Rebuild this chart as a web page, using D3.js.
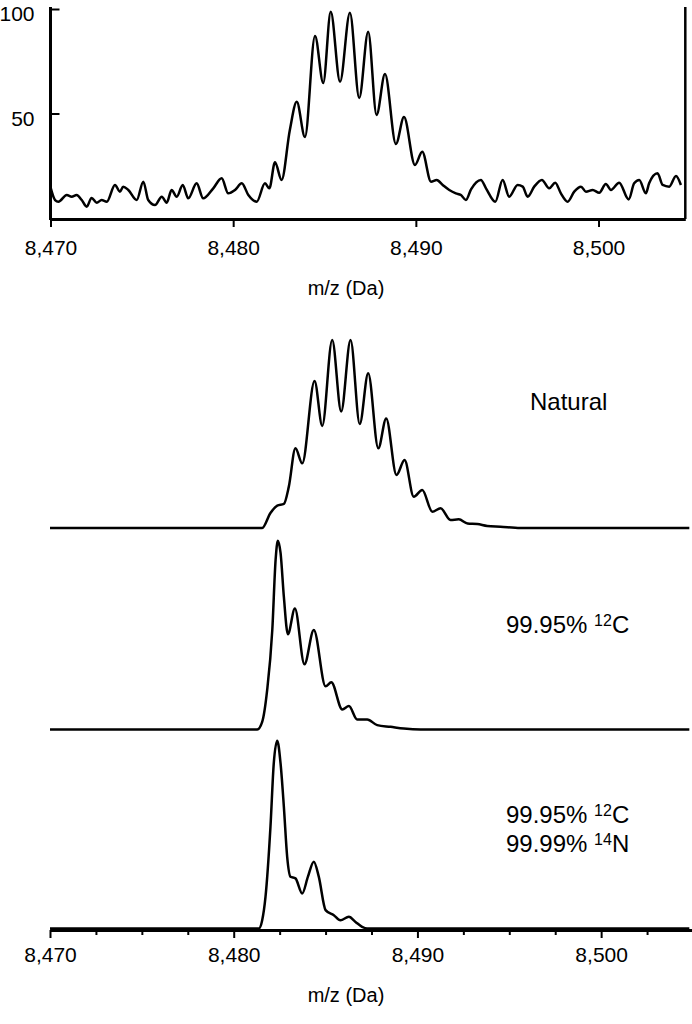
<!DOCTYPE html>
<html>
<head>
<meta charset="utf-8">
<script src="https://cdn.jsdelivr.net/npm/d3@7"></script>
<style>
body { margin: 0; background: #fff; }
text { font-family: "Liberation Sans", Arial, Helvetica, sans-serif; fill: #000; }
</style>
</head>
<body>
<svg id="chart"></svg>
<script>
const w = 692;
const h = 1024;

// measured spectrum (top panel), m/z and relative intensity
const measMz = [8470.01, 8470.25, 8470.43, 8470.89, 8471.16, 8471.43, 8471.71, 8471.98, 8472.25, 8472.53,
  8472.80, 8473.08, 8473.53, 8473.80, 8473.98, 8474.26, 8474.72, 8475.08, 8475.35, 8475.72,
  8476.09, 8476.36, 8476.63, 8476.91, 8477.24, 8477.54, 8478.00, 8478.36, 8478.91, 8479.37,
  8479.73, 8480.10, 8480.47, 8480.83, 8481.29, 8481.74, 8481.98, 8482.29, 8482.65, 8483.10,
  8483.48, 8483.93, 8484.48, 8484.93, 8485.34, 8485.85, 8486.39, 8486.90, 8487.39, 8487.85,
  8488.31, 8488.91, 8489.35, 8489.95, 8490.35, 8490.83, 8491.14, 8491.47, 8491.83, 8492.19,
  8492.47, 8492.74, 8493.02, 8493.56, 8493.84, 8494.35, 8494.75, 8495.11, 8495.57, 8495.85,
  8496.12, 8496.48, 8496.90, 8497.30, 8497.63, 8497.94, 8498.31, 8498.67, 8499.04, 8499.31,
  8499.68, 8500.04, 8500.40, 8500.68, 8501.13, 8501.65, 8501.95, 8502.23, 8502.59, 8502.77,
  8503.23, 8503.51, 8503.87, 8504.24, 8504.51];
const measInt = [14.4, 8.6, 7.8, 11.0, 10.2, 11.0, 8.6, 5.4, 9.6, 7.3,
  8.6, 7.8, 15.8, 12.6, 15.0, 13.4, 8.6, 17.4, 8.6, 6.2,
  10.2, 7.3, 13.4, 10.2, 15.8, 9.4, 16.6, 9.4, 14.2, 19.0,
  11.8, 13.4, 16.6, 11.0, 7.8, 16.6, 14.2, 26.7, 18.2, 42.0,
  55.6, 38.8, 87.1, 64.6, 98.7, 65.2, 98.2, 57.4, 89.1, 49.3,
  68.9, 35.4, 48.3, 25.4, 31.7, 17.4, 18.2, 15.8, 13.4, 11.8,
  11.0, 8.6, 13.7, 18.2, 14.2, 7.8, 18.2, 10.2, 15.8, 15.0,
  10.2, 15.0, 18.2, 14.2, 16.9, 11.8, 7.8, 12.6, 15.0, 12.6,
  13.4, 12.1, 16.3, 13.4, 16.9, 8.9, 16.6, 18.2, 11.8, 16.6,
  21.4, 15.8, 15.0, 20.1, 15.8];

// simulated distributions (bottom panels)
const natMz = [8470.0, 8481.55, 8482.00, 8482.37, 8482.73, 8483.00, 8483.36, 8483.73, 8484.40, 8484.82,
  8485.36, 8485.85, 8486.36, 8486.86, 8487.32, 8487.87, 8488.30, 8488.86, 8489.30, 8489.80,
  8490.26, 8490.81, 8491.26, 8491.80, 8492.25, 8492.73, 8493.26, 8493.80, 8494.52, 8495.60, 8504.8];
const natInt = [0, 0, 8.0, 11.9, 12.8, 22.0, 42.4, 34.4, 78.2, 54.3,
  100, 62.0, 100, 55.3, 82.3, 42.4, 58.3, 28.2, 36.2, 16.6,
  20.2, 8.7, 10.5, 4.3, 4.6, 2.4, 2.1, 1.1, 0.7, 0, 0];

const c12Mz = [8470.0, 8481.28, 8481.55, 8481.82, 8482.10, 8482.28, 8482.40, 8482.55, 8482.73, 8482.95,
  8483.33, 8483.85, 8484.36, 8485.00, 8485.31, 8485.91, 8486.27, 8486.72, 8487.27, 8487.81,
  8488.54, 8489.26, 8490.17, 8504.8];
const c12Int = [0, 0, 4.0, 20.8, 52.7, 89.8, 100, 93.5, 70.2, 50.5,
  64.1, 34.6, 52.7, 22.9, 25.0, 10.6, 12.4, 5.3, 5.3, 2.3,
  1.4, 0.5, 0, 0];

const c12n14Mz = [8470.0, 8481.37, 8481.55, 8481.73, 8482.00, 8482.18, 8482.37, 8482.55, 8482.73, 8482.91,
  8483.09, 8483.36, 8483.73, 8484.04, 8484.36, 8484.63, 8485.00, 8485.45, 8485.81, 8486.27,
  8486.63, 8486.99, 8487.26, 8504.8];
const c12n14Int = [0, 0, 4.4, 16.8, 54.1, 87.9, 100, 87.9, 64.8, 38.2,
  27.6, 26.7, 18.7, 27.6, 35.6, 27.6, 9.8, 7.1, 4.4, 6.2,
  3.5, 0.9, 0, 0];

const mzTicks = [8470, 8480, 8490, 8500];
const mzMinorTicks = [8472.5, 8475, 8477.5, 8482.5, 8485, 8487.5, 8492.5, 8495, 8497.5, 8502.5];
const intTicks = [50, 100];
const xTitle = "m/z (Da)";

const svg = d3.select("#chart")
  .attr("width", w)
  .attr("height", h);

const zip = (xs, ys) => xs.map((x, i) => [x, ys[i]]);

//draw a trace with its own scales
function trace(x, y, mz, val, width) {
  const line = d3.line()
    .x(d => x(d[0]))
    .y(d => y(d[1]))
    .curve(d3.curveMonotoneX);
  svg.append("path")
    .datum(zip(mz, val))
    .attr("d", line)
    .attr("fill", "none")
    .attr("stroke", "#000")
    .attr("stroke-width", width)
    .attr("stroke-linejoin", "round");
}

function styleAxis(g, lineWidth) {
  g.select(".domain").attr("stroke-width", lineWidth).attr("stroke", "#000");
  g.selectAll(".tick line").attr("stroke-width", 2).attr("stroke", "#000");
  g.selectAll(".tick text").style("font-size", "21px").attr("font-family", null);
}

// ---- top panel: measured spectrum ----
const xTop = d3.scaleLinear().domain([8470, 8504.75]).range([50.5, 685.3]);
const yTop = d3.scaleLinear().domain([0, 100]).range([218, 9]);

trace(xTop, yTop, measMz, measInt, 2.5);

const topBottomAxis = svg.append("g")
  .attr("transform", "translate(0,219)")
  .call(d3.axisBottom(xTop)
    .tickValues(mzTicks)
    .tickFormat(d3.format(","))
    .tickSizeInner(8)
    .tickSizeOuter(0)
    .tickPadding(13));
styleAxis(topBottomAxis, 3);

const topLeftAxis = svg.append("g")
  .attr("transform", "translate(50.5,0)")
  .call(d3.axisLeft(yTop)
    .tickValues(intTicks)
    .tickSizeInner(-9)
    .tickSizeOuter(0)
    .tickPadding(16));
styleAxis(topLeftAxis, 3);
topLeftAxis.select(".domain").attr("d", `M0,${yTop(0) + 2}V${yTop(100) - 2}`);
topLeftAxis.selectAll(".tick text").attr("y", 5);

// right frame line
svg.append("line")
  .attr("x1", xTop.range()[1]).attr("x2", xTop.range()[1])
  .attr("y1", yTop(100) - 2).attr("y2", yTop(0) + 1)
  .attr("stroke", "#000")
  .attr("stroke-width", 2.5);

svg.append("text")
  .attr("x", 346)
  .attr("y", 295)
  .attr("text-anchor", "middle")
  .style("font-size", "20px")
  .text(xTitle);

// ---- bottom panel: three simulated distributions ----
const xBot = d3.scaleLinear().domain([8470, 8505]).range([50, 693]);
const yNat = d3.scaleLinear().domain([0, 100]).range([528, 340]);
const y12 = d3.scaleLinear().domain([0, 100]).range([729.5, 540.7]);
const y12n = d3.scaleLinear().domain([0, 100]).range([928.5, 740.7]);

trace(xBot, yNat, natMz, natInt, 2.5);
trace(xBot, y12, c12Mz, c12Int, 2.5);
trace(xBot, y12n, c12n14Mz, c12n14Int, 2.5);

const minorAxis = svg.append("g")
  .attr("transform", "translate(0,930)")
  .call(d3.axisBottom(xBot)
    .tickValues(mzMinorTicks)
    .tickFormat("")
    .tickSizeInner(5)
    .tickSizeOuter(0));
styleAxis(minorAxis, 3);

const majorAxis = svg.append("g")
  .attr("transform", "translate(0,930)")
  .call(d3.axisBottom(xBot)
    .tickValues(mzTicks)
    .tickFormat(d3.format(","))
    .tickSizeInner(8)
    .tickSizeOuter(0)
    .tickPadding(9));
styleAxis(majorAxis, 3);

svg.append("text")
  .attr("x", 346)
  .attr("y", 1002)
  .attr("text-anchor", "middle")
  .style("font-size", "20px")
  .text(xTitle);

// annotations with superscript isotopes
function label(x, y, parts) {
  const t = svg.append("text")
    .attr("x", x)
    .attr("y", y)
    .style("font-size", "24px");
  parts.forEach(p => {
    if (p.sup) {
      t.append("tspan").attr("dy", -7).style("font-size", "16px").text(p.sup);
      t.append("tspan").attr("dy", 7).text(p.s);
    } else {
      t.append("tspan").text(p.s);
    }
  });
}

label(530, 410, [{ s: "Natural" }]);
label(506, 633, [{ s: "99.95% " }, { sup: "12", s: "C" }]);
label(506, 823, [{ s: "99.95% " }, { sup: "12", s: "C" }]);
label(506, 852, [{ s: "99.99% " }, { sup: "14", s: "N" }]);
</script>
</body>
</html>
